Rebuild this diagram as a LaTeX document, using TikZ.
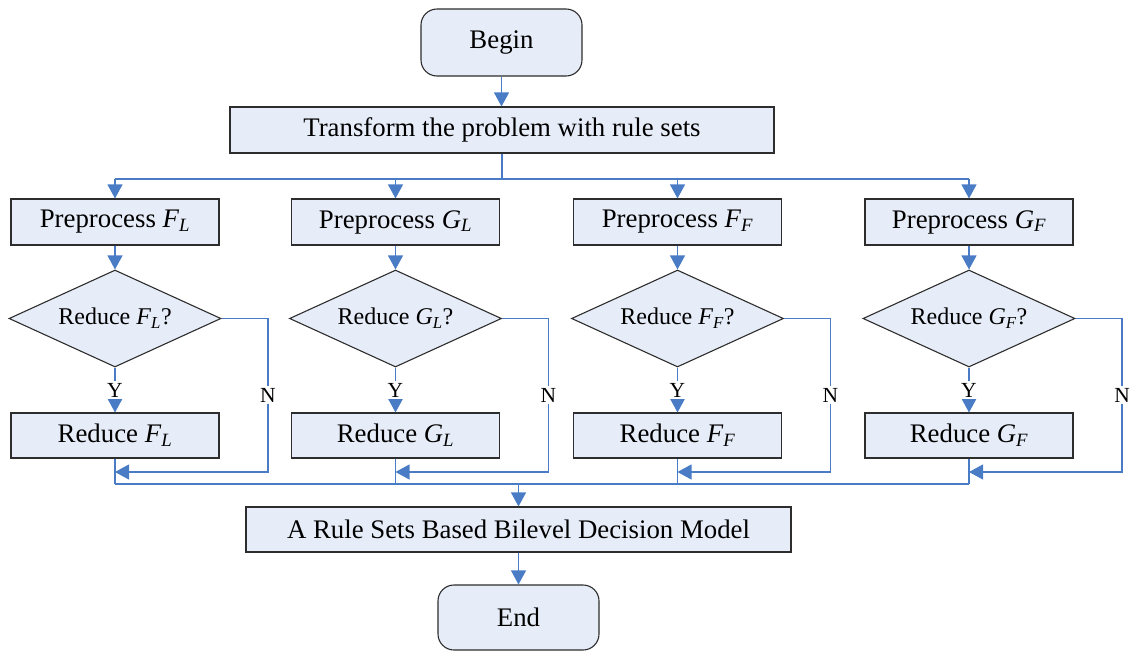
\documentclass[tikz,border=0pt]{standalone}
\usepackage{fontspec}
\setmainfont{Liberation Serif}
\usetikzlibrary{shapes.geometric,arrows.meta}
\definecolor{boxfill}{RGB}{231,237,248}
\definecolor{flowblue}{RGB}{74,124,198}
\definecolor{boxline}{RGB}{45,45,45}
\newcommand\mysub[1]{\textsubscript{\itshape #1}}
\tikzset{
  boxtext/.style={font=\fontsize{26.8}{30}\selectfont},
  procbox/.style={rectangle,draw=boxline,line width=1.1pt,fill=boxfill,inner sep=0pt,boxtext},
  termbox/.style={procbox,rounded corners=16pt},
  decbox/.style={diamond,aspect=2.2,draw=boxline,line width=1.1pt,fill=boxfill,inner sep=0pt,
    minimum width=212pt,minimum height=97pt,font=\fontsize{24}{28}\selectfont},
  flow/.style={draw=flowblue,line width=1.1pt},
  arr/.style={flow,-{Triangle[length=14pt,width=15pt]}},
  yn/.style={fill=white,inner sep=1.5pt,font=\fontsize{21.5}{24}\selectfont}
}
\begin{document}
\begin{tikzpicture}[x=1pt,y=-1pt]
\useasboundingbox (0,0) rectangle (1132,654);
\node[termbox,minimum width=161pt,minimum height=67pt] (begin) at (501.5,42.5) {Begin};
\node[procbox,minimum width=544pt,minimum height=46pt] (trans) at (502,130) {Transform the problem with rule sets};
\node[procbox,minimum width=545pt,minimum height=45pt] (model) at (518.5,529.5) {A Rule Sets Based Bilevel Decision Model};
\node[termbox,minimum width=161pt,minimum height=65pt] (end) at (518.5,617.5) {End};

\draw[arr] (begin.south) -- (begin.south |- trans.north);
\coordinate (s0) at (502,179);
\draw[flow] (trans.south) -- (s0);
\coordinate (sL) at (115,179);
\coordinate (sR) at (969,179);
\draw[flow] (sL) -- (sR);
\coordinate (mL) at (115,484);
\coordinate (mR) at (969,484);
\coordinate (m0) at (518.5,484);
\draw[flow] (mL) -- (mR);
\draw[arr] (m0) -- (model.north);
\draw[arr] (model.south) -- (end.north);

\foreach \i/\cx/\A/\B in {1/115/F/L,2/395.5/G/L,3/677.5/F/F,4/969/G/F}{
  \node[procbox,minimum width=208pt,minimum height=46pt] (p\i) at (\cx,222) {Preprocess \textit{\A}\mysub{\B}};
  \node[decbox] (d\i) at (\cx,318.5) {Reduce \textit{\A}\mysub{\B}?};
  \node[procbox,minimum width=208pt,minimum height=45pt] (r\i) at (\cx,435.5) {Reduce \textit{\A}\mysub{\B}};
  \coordinate (s\i) at (\cx,179);
  \coordinate (m\i) at (\cx,484);
  \coordinate (rc\i) at (\cx,472);
  \coordinate (nc\i) at (\cx+153,472);
  \draw[arr] (s\i) -- (p\i.north);
  \draw[arr] (p\i.south) -- (d\i.north);
  \draw[arr] (d\i.south) -- (r\i.north);
  \draw[flow] (r\i.south) -- (m\i);
  \draw[arr] (d\i.east) -| (nc\i) -- (rc\i);
  \node[yn] (y\i) at (\cx,390) {Y};
  \node[yn] (n\i) at (\cx+153,395) {N};
}
\end{tikzpicture}
\end{document}
